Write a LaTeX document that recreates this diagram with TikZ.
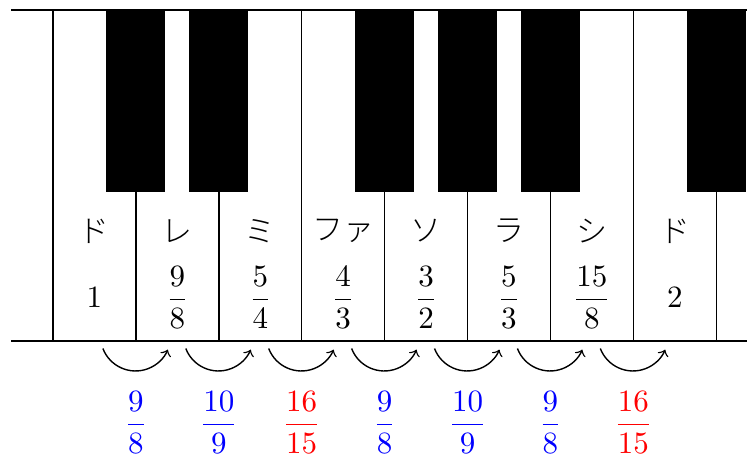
\documentclass[tikz,border=0pt]{standalone}
\usepackage{fontspec}
\usepackage{amsmath}
\newfontfamily\jp{Noto Sans CJK JP Light}
\begin{document}
\begin{tikzpicture}[x=0.3225pt,y=-0.3225pt,line width=0.45pt,
  kana/.style={font=\jp, anchor=center},
  ratio/.style={anchor=base},
  step9/.style={anchor=base, text=blue},
  semi/.style={anchor=base, text=red},
  hop/.style={->}]
\useasboundingbox (0,0) rectangle (747,456);
\def\kw{82.9}
% white keys
\draw (11,10) -- (747,10);
\draw (11,341) -- (747,341);
\foreach \i in {0,...,8} \draw ({53+\i*\kw},10) -- ({53+\i*\kw},341);
% black keys
\foreach \i in {1,2,4,5,6,8} \fill ({53+\i*\kw-29.5},10) rectangle ({53+\i*\kw+29.5},192);
% note names
\node[kana] (k1) at ({53+0.5*\kw},231) {ド};
\node[kana] (k2) at ({53+1.5*\kw},231) {レ};
\node[kana] (k3) at ({53+2.5*\kw},231) {ミ};
\node[kana] (k4) at ({53+3.5*\kw},231) {ファ};
\node[kana] (k5) at ({53+4.5*\kw},231) {ソ};
\node[kana] (k6) at ({53+5.5*\kw},231) {ラ};
\node[kana] (k7) at ({53+6.5*\kw},231) {シ};
\node[kana] (k8) at ({53+7.5*\kw},231) {ド};
% ratios
\node[ratio] (r1) at ({53+0.5*\kw},307) {$1$};
\node[ratio] (r2) at ({53+1.5*\kw},307) {$\dfrac{9}{8}$};
\node[ratio] (r3) at ({53+2.5*\kw},307) {$\dfrac{5}{4}$};
\node[ratio] (r4) at ({53+3.5*\kw},307) {$\dfrac{4}{3}$};
\node[ratio] (r5) at ({53+4.5*\kw},307) {$\dfrac{3}{2}$};
\node[ratio] (r6) at ({53+5.5*\kw},307) {$\dfrac{5}{3}$};
\node[ratio] (r7) at ({53+6.5*\kw},307) {$\dfrac{15}{8}$};
\node[ratio] (r8) at ({53+7.5*\kw},307) {$2$};
% arcs
\foreach \i in {1,...,7} {
  \coordinate (s\i) at ({53+\i*\kw-33},348.5);
  \draw[hop] (s\i) arc[start angle=159,end angle=23,radius=35];
}
% intervals
\node[step9] (i1) at ({53+1*\kw},432) {$\dfrac{9}{8}$};
\node[step9] (i2) at ({53+2*\kw},432) {$\dfrac{10}{9}$};
\node[semi]  (i3) at ({53+3*\kw},432) {$\dfrac{16}{15}$};
\node[step9] (i4) at ({53+4*\kw},432) {$\dfrac{9}{8}$};
\node[step9] (i5) at ({53+5*\kw},432) {$\dfrac{10}{9}$};
\node[step9] (i6) at ({53+6*\kw},432) {$\dfrac{9}{8}$};
\node[semi]  (i7) at ({53+7*\kw},432) {$\dfrac{16}{15}$};
\end{tikzpicture}
\end{document}
